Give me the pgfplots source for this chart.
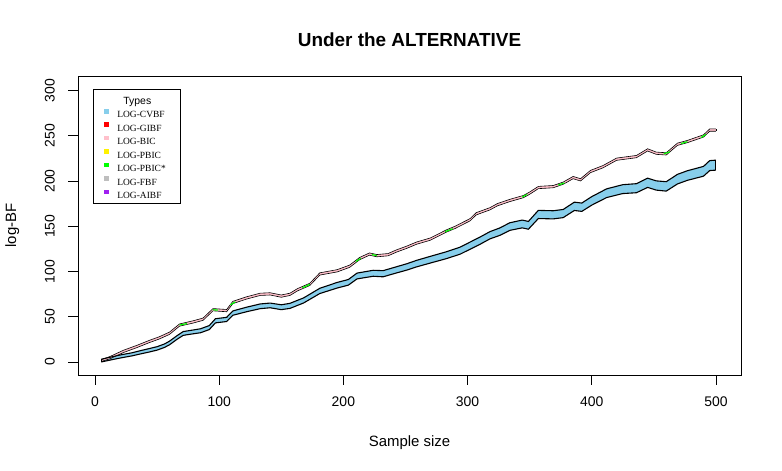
\documentclass[border=0pt]{standalone}
\usepackage{pgfplots}
\pgfplotsset{compat=1.18}
\usepgfplotslibrary{fillbetween}
\usepackage{fontspec}
\setmainfont{Liberation Sans}
\newfontfamily\legserif{Liberation Serif}

\definecolor{skyblue}{RGB}{135,206,235}
\definecolor{rpink}{RGB}{255,192,203}
\definecolor{rgreen}{RGB}{0,255,0}
\definecolor{rgrey}{RGB}{190,190,190}
\definecolor{rpurple}{RGB}{160,32,240}

\newcommand{\lent}[1]{\makebox[63bp][l]{\rule[-3.8bp]{0pt}{12.3bp}#1}}

% CVBF band
\pgfplotstableread{
x lo hi
5 0 3
15 2.9 6.1
22 4.8 8.2
30 6.8 10.2
36 8.7 12.3
44 11.1 14.9
50 13.1 16.9
56 16.1 19.9
60 19 23
66 25 29
71 29.4 33.6
78 30.9 35.1
85 32.3 36.7
92 35.8 40.2
97 43.2 47.8
106 44.7 49.3
111 51.6 56.4
122 55.5 60.5
133 58.9 64.1
141 59.9 65.1
150 57.8 63.2
157 59.2 64.8
168 65.2 70.8
181 75.6 81.4
195 81.7 87.9
204 84.9 91.1
211 91.8 98.2
224 94.7 101.3
232 94.1 100.9
240 97.3 104.1
251 101.5 108.5
259 105.1 112.3
270 109.3 116.7
283 114.2 121.8
294 119.1 126.9
310 130 138
318 136 144
326 139.9 148.1
334 145.4 153.8
344 148.2 156.8
349 146.7 155.3
357 158.5 167.5
369 158.1 167.1
377 159.5 168.5
386 167.4 176.6
392 166.4 175.6
400 173.3 182.7
412 181.7 191.3
425 186.1 195.9
436 187 197
445 192.9 203.1
452 189.9 200.1
460 188.8 199.2
469 196.7 207.3
477 200.7 211.3
490 205.3 216.1
495 211.5 222.5
500 212 223
}\cvbf

% the other six types (nearly on top of each other)
\pgfplotstableread{
x top bot
5 2.5 0.5
12 6 3.5
23 13 10.5
33 18 15.5
44 24 21.5
52 28 25.5
60 33 30.5
68 42 39.5
79 45.5 43
87 48.5 46
95 59 56.5
106 58 55.5
111 67 64.5
122 72 69.5
133 76 73.5
141 76.5 74
150 74 71.5
157 76 73.5
163 81 78.5
173 87 84.5
181 98.5 96
195 102 99.5
205 107 104.5
213 115.4 112.9
221 120.5 118
227 118.7 116.2
236 119.8 117.3
243 124 121.5
251 128 125.5
259 132.6 130.1
270 137 134.5
283 146 143.5
290 150 147.5
302 158.4 155.9
307 165 162.5
318 170.5 168
324 175 172.5
334 179.7 177.2
345 184 181.5
350 187.8 185.3
357 194 191.5
369 195 192.5
377 198.8 196.3
385 205 202.5
391 202.5 200
399 211.7 209.2
409 217 214.5
420 225.3 222.8
436 228.2 225.7
445 235.6 233.1
452 231.9 229.4
460 231.2 228.7
469 241.8 239.3
477 244.8 242.3
490 251 248.5
495 257.5 255
500 257.5 255
}\others

\begin{document}
\begin{tikzpicture}
\begin{axis}[
    scale only axis,
    width=663bp, height=299bp,
    xmin=-13.7, xmax=520.2,
    ymin=-14.4, ymax=316,
    xtick={0,100,...,500},
    ytick={0,50,...,300},
    tick pos=left,
    tick align=outside,
    major tick length=9.6bp,
    every tick/.style={black, line width=0.8bp},
    axis line style={line width=0.8bp},
    /pgf/number format/assume math mode=true,
    ticklabel style={font=\fontsize{14}{16}\selectfont},
    xticklabel shift=9bp,
    yticklabel shift=10bp,
    yticklabel style={rotate=90},
    title={\fontsize{19}{22}\selectfont\bfseries Under the ALTERNATIVE},
    title style={at={(axis description cs:0.5,1.077)}, anchor=base, inner sep=0pt},
    xlabel={Sample size},
    ylabel={log-BF},
    label style={font=\fontsize{15}{18}\selectfont},
    xlabel style={at={(axis description cs:0.5,-0.2375)}, anchor=base, inner sep=0pt},
    ylabel style={at={(axis description cs:-0.0935,0.5)}, anchor=base, inner sep=0pt},
    legend style={at={(axis description cs:0.0226,0.9565)}, anchor=north west,
      draw=black, line width=0.8bp, fill=white, inner xsep=0pt, inner ysep=0pt,
      row sep=0pt, column sep=3bp, nodes={inner sep=0pt},
      font=\legserif\fontsize{9.5}{11}\selectfont},
    legend cell align=left,
    legend image code/.code={\path[draw=none, fill=none] (0bp,-3.8bp) rectangle (21bp,8.5bp);
      \fill[#1, draw=none] (11bp,0.9bp) rectangle (15.5bp,5.4bp);},
]
\addplot[draw=none, forget plot, name path=cl] table[x=x, y=lo] {\cvbf};
\addplot[draw=none, forget plot, name path=ch] table[x=x, y=hi] {\cvbf};
\addplot[skyblue, forget plot] fill between[of=cl and ch];
\addplot[black, line width=1.1bp, forget plot] table[x=x, y=lo] {\cvbf};
\addplot[black, line width=1.1bp, forget plot] table[x=x, y=hi] {\cvbf};
\addplot[black, line width=1.1bp, forget plot] coordinates {(500,212) (500,223)};
\addplot[black, line width=1.1bp, forget plot] coordinates {(5,0) (5,3)};

\addplot[draw=none, forget plot, name path=ob] table[x=x, y=bot] {\others};
\addplot[draw=none, forget plot, name path=ot] table[x=x, y=top] {\others};
\addplot[rpink, forget plot] fill between[of=ob and ot];
\addplot[black, line width=0.6bp, forget plot] table[x=x, y=bot] {\others};
\addplot[black, line width=0.6bp, forget plot] table[x=x, y=top] {\others};
\addplot[black, line width=0.6bp, forget plot] coordinates {(500,255) (500,257.5)};
% short stretches where the green series is drawn on top
\addplot[rgreen, line width=1.2bp, forget plot] coordinates {(68,40.8) (74,42.4)};
\addplot[rgreen, line width=1.2bp, forget plot] coordinates {(95,57.7) (99,57.3)};
\addplot[rgreen, line width=1.2bp, forget plot] coordinates {(109,63) (113,66.5)};
\addplot[rgreen, line width=1.2bp, forget plot] coordinates {(167,82) (173,85.7)};
\addplot[rgreen, line width=1.2bp, forget plot] coordinates {(210,111) (214,114.5)};
\addplot[rgreen, line width=1.2bp, forget plot] coordinates {(223,118.7) (227,117.5)};
\addplot[rgreen, line width=1.2bp, forget plot] coordinates {(282,144) (288,147.3)};
\addplot[rgreen, line width=1.2bp, forget plot] coordinates {(344,182.3) (348,185.1)};
\addplot[rgreen, line width=1.2bp, forget plot] coordinates {(373,195.5) (378,197.8)};
\addplot[rgreen, line width=1.2bp, forget plot] coordinates {(458,230) (463,232.2)};
\addplot[rgreen, line width=1.2bp, forget plot] coordinates {(472,241.3) (477,243.5)};
\addplot[rgreen, line width=1.2bp, forget plot] coordinates {(488,248) (492,251.5)};

\addlegendimage{empty legend}
\addlegendentry{\makebox[63bp][l]{\rule[-8.2bp]{0pt}{23.2bp}\hspace{6bp}\rmfamily\fontsize{10.5}{12}\selectfont Types}}
\addlegendimage{skyblue}
\addlegendentry{\lent{LOG-CVBF}}
\addlegendimage{red}
\addlegendentry{\lent{LOG-GIBF}}
\addlegendimage{rpink}
\addlegendentry{\lent{LOG-BIC}}
\addlegendimage{yellow}
\addlegendentry{\lent{LOG-PBIC}}
\addlegendimage{rgreen}
\addlegendentry{\lent{LOG-PBIC*}}
\addlegendimage{rgrey}
\addlegendentry{\lent{LOG-FBF}}
\addlegendimage{legend image code/.code={\path[draw=none, fill=none] (0bp,-8bp) rectangle (21bp,8.5bp);
      \fill[rpurple, draw=none] (11bp,0.9bp) rectangle (15.5bp,5.4bp);}}
\addlegendentry{\makebox[63bp][l]{\rule[-8bp]{0pt}{16.5bp}LOG-AIBF}}
\end{axis}
\pgfresetboundingbox
\useasboundingbox (-78bp,-96bp) rectangle (704bp,375bp);
\end{tikzpicture}
\end{document}
